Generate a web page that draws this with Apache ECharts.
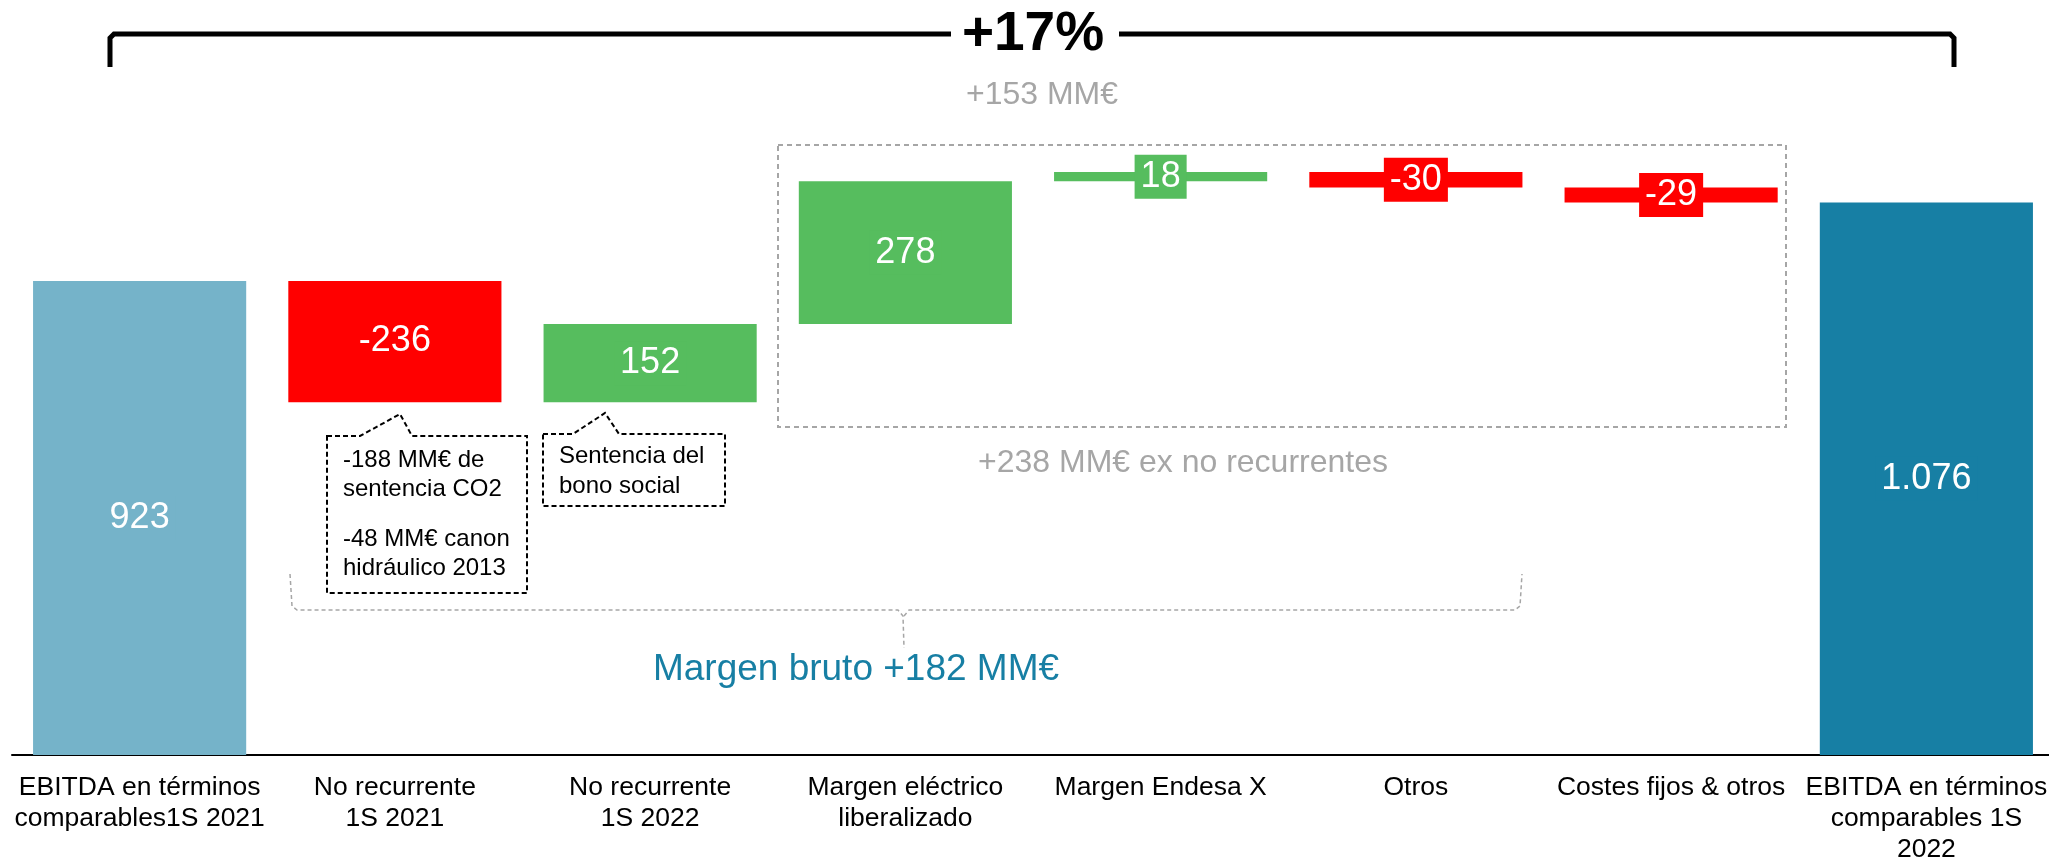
<!DOCTYPE html>
<html>
<head>
<meta charset="utf-8">
<title>EBITDA 1S 2022</title>
<script src="https://cdn.jsdelivr.net/npm/echarts@6/dist/echarts.min.js"></script>
<style>
  html, body { margin: 0; padding: 0; background: #fff; }
  #chart { width: 2049px; height: 858px; }
</style>
</head>
<body>
<div id="chart"></div>
<script>
// datos (MM€)
const categories = [
  'EBITDA en términos\ncomparables1S 2021',
  'No recurrente\n1S 2021',
  'No recurrente\n1S 2022',
  'Margen eléctrico\nliberalizado',
  'Margen Endesa X',
  'Otros',
  'Costes fijos & otros',
  'EBITDA en términos\ncomparables 1S\n2022'
];
const values = [923, -236, 152, 278, 18, -30, -29, 1076];
const isTotal = [true, false, false, false, false, false, false, true];

const FONT = '"Liberation Sans", Arial, sans-serif';
const GREY = '#a6a6a6';

// 1076 -> "1.076"
function fmt(v) {
  const s = String(Math.abs(v)).replace(/\B(?=(\d{3})+(?!\d))/g, '.');
  return (v < 0 ? '-' : '') + s;
}

function colorFor(i) {
  if (isTotal[i]) return i === 0 ? '#75b3c9' : '#177fa4';
  return values[i] < 0 ? '#ff0000' : '#56bd5e';
}

// cascada: base invisible + barra visible
const baseData = [];
const barData = [];
let running = 0;
values.forEach((v, i) => {
  const c = colorFor(i);
  if (isTotal[i]) {
    baseData.push(0);
    running = v;
    barData.push({ value: v, itemStyle: { color: c }, label: { backgroundColor: c } });
  } else {
    baseData.push(Math.min(running, running + v));
    running += v;
    barData.push({ value: Math.abs(v), itemStyle: { color: c }, label: { backgroundColor: c } });
  }
});

const chart = echarts.init(document.getElementById('chart'));

const txt = (x, y, text, size, color, extra) => ({
  type: 'text', x: x, y: y, z: 100,
  style: Object.assign({
    text: text, fontSize: size, fill: color, fontFamily: FONT,
    align: 'center', verticalAlign: 'middle'
  }, extra || {})
});
const line = (pts, color, width, dash) => ({
  type: 'polyline', z: 100,
  shape: { points: pts },
  style: { stroke: color, lineWidth: width, fill: null, lineDash: dash || null }
});

chart.setOption({
  animation: false,
  grid: { left: 12, width: 2042, top: 36, bottom: 103, outerBoundsMode: 'none', containLabel: false },
  xAxis: {
    type: 'category',
    data: categories,
    axisLine: { lineStyle: { color: '#000', width: 2 } },
    axisTick: { show: false },
    axisLabel: {
      interval: 0, fontSize: 26.5, lineHeight: 31, color: '#000',
      margin: 17, fontFamily: FONT
    }
  },
  yAxis: { type: 'value', min: 0, max: 1400, show: false },
  series: [
    {
      type: 'bar', stack: 'w', silent: true,
      itemStyle: { color: 'transparent' },
      data: baseData
    },
    {
      type: 'bar', stack: 'w', barWidth: '83.5%',
      label: {
        show: true, position: 'inside', color: '#fff', fontSize: 36,
        fontFamily: FONT, padding: [4, 6],
        formatter: p => fmt(values[p.dataIndex])
      },
      data: barData
    }
  ],
  graphic: [
    // corchete superior +17%
    line([[110, 67], [110, 38], [114, 34], [951, 34]], '#000', 5),
    line([[1119, 34], [1950, 34], [1954, 38], [1954, 67]], '#000', 5),
    txt(1033, 35, '+17%', 55, '#000', { fontWeight: 'bold' }),
    txt(1042, 95, '+153 MM€', 32, GREY),
    // recuadro recurrentes
    {
      type: 'rect', z: 100,
      shape: { x: 778, y: 145, width: 1008, height: 282 },
      style: { stroke: GREY, lineWidth: 2, fill: null, lineDash: [5, 4] }
    },
    txt(1183, 463, '+238 MM€ ex no recurrentes', 32, GREY),
    // llave margen bruto
    line([[290, 574], [292, 606], [297, 610], [898, 610], [903, 616], [904, 648]], GREY, 1.5, [4, 3]),
    line([[904, 616], [909, 610], [1515, 610], [1520, 606], [1522, 574]], GREY, 1.5, [4, 3]),
    txt(856, 670, 'Margen bruto +182 MM€', 37, '#177fa4'),
    // notas no recurrentes
    {
      type: 'polygon', z: 100,
      shape: { points: [[327, 436], [360, 436], [400, 414], [412, 436], [527, 436], [527, 593], [327, 593]] },
      style: { stroke: '#000', lineWidth: 2, fill: null, lineDash: [5, 3] }
    },
    txt(343, 446, '-188 MM€ de\nsentencia CO2', 24, '#000', { align: 'left', verticalAlign: 'top', lineHeight: 29 }),
    txt(343, 525, '-48 MM€ canon\nhidráulico 2013', 24, '#000', { align: 'left', verticalAlign: 'top', lineHeight: 29 }),
    {
      type: 'polygon', z: 100,
      shape: { points: [[543, 434], [573, 434], [605, 413], [619, 434], [725, 434], [725, 506], [543, 506]] },
      style: { stroke: '#000', lineWidth: 2, fill: null, lineDash: [5, 3] }
    },
    txt(559, 441, 'Sentencia del\nbono social', 24, '#000', { align: 'left', verticalAlign: 'top', lineHeight: 30 })
  ]
});
</script>
</body>
</html>
